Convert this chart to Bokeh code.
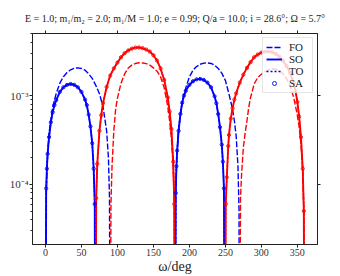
from bokeh.plotting import figure
from bokeh.models import Range1d, FixedTicker, LinearAxis, LogAxis, Legend, LegendItem
from bokeh.embed import file_html
from bokeh.resources import INLINE

# ---- data (values in units of 1e-3; positive part drawn blue, negative part red) ----
so_omega = [0, 1, 2, 3, 5, 7.5, 10, 12.5, 15, 20, 25, 30, 35, 40, 45, 50, 55, 57.5, 60, 62.5, 65, 67, 68.5, 69.5,
            70.5, 72, 75, 77.5, 80, 85, 90, 95, 100, 105, 110, 115, 120, 125, 130, 135, 140, 145, 150, 155, 160,
            165, 170, 172.5, 175, 177.5, 179, 180,
            181, 182, 183, 185, 187.5, 190, 192.5, 195, 200, 205, 210, 215, 220, 225, 230, 235, 237.5, 240, 242.5,
            245, 246.5, 248, 249.3,
            250.5, 252, 254, 255, 257.5, 260, 262.5, 265, 270, 275, 280, 285, 290, 295, 300, 305, 310, 315, 320,
            325, 330, 335, 340, 345, 347.5, 350, 352.5, 355, 357.5, 359, 360]
so_vals = [0, 0.09, 0.15, 0.22, 0.34, 0.50, 0.65, 0.78, 0.89, 1.10, 1.24, 1.32, 1.35, 1.32, 1.24, 1.10, 0.90, 0.78,
           0.61, 0.45, 0.29, 0.15, 0.06, 0,
           -0.07, -0.17, -0.40, -0.60, -0.82, -1.25, -1.68, -2.02, -2.35, -2.70, -3.00, -3.22, -3.38, -3.47, -3.48,
           -3.42, -3.30, -3.13, -2.85, -2.48, -2.02, -1.50, -0.95, -0.66, -0.42, -0.18, -0.06, 0,
           0.08, 0.16, 0.24, 0.40, 0.62, 0.83, 1.00, 1.13, 1.32, 1.45, 1.52, 1.54, 1.50, 1.40, 1.24, 0.98, 0.82,
           0.62, 0.44, 0.28, 0.18, 0.09, 0,
           -0.06, -0.12, -0.27, -0.36, -0.55, -0.72, -0.90, -1.06, -1.40, -1.72, -2.05, -2.38, -2.70, -2.90, -3.05,
           -3.13, -3.14, -3.08, -2.95, -2.75, -2.48, -2.15, -1.80, -1.38, -1.12, -0.85, -0.58, -0.34, -0.15, -0.05, 0]

fo_omega = [0, 1, 2.5, 5, 10, 15, 20, 25, 30, 35, 40, 45, 50, 55, 60, 65, 70, 75, 80, 85, 87.5, 89, 90,
            91, 92.5, 95, 97.5, 100, 105, 110, 115, 120, 125, 130, 135, 140, 145, 150, 155, 160, 165, 170, 172.5,
            175, 177.5, 179, 180,
            181, 182.5, 185, 190, 195, 200, 205, 210, 215, 220, 225, 230, 235, 240, 245, 250, 255, 260, 262.5,
            265, 267.5, 269, 269.5,
            271, 272.5, 275, 277.5, 280, 282.5, 285, 290, 295, 300, 305, 310, 315, 320, 325, 330, 335, 340, 345,
            350, 352.5, 355, 357.5, 359, 360]
fo_vals = [0, 0.07, 0.18, 0.38, 0.74, 1.06, 1.38, 1.63, 1.82, 1.95, 2.03, 2.05, 2.02, 1.93, 1.76, 1.56, 1.30, 1.05,
           0.75, 0.40, 0.20, 0.07, 0,
           -0.06, -0.16, -0.40, -0.70, -0.93, -1.38, -1.75, -2.04, -2.20, -2.30, -2.34, -2.33, -2.29, -2.20, -2.05,
           -1.88, -1.62, -1.22, -0.75, -0.52, -0.33, -0.16, -0.06, 0,
           0.08, 0.20, 0.42, 0.85, 1.22, 1.62, 1.93, 2.12, 2.25, 2.32, 2.33, 2.30, 2.20, 2.02, 1.79, 1.48, 1.04,
           0.70, 0.52, 0.35, 0.16, 0.05, 0,
           -0.07, -0.13, -0.26, -0.38, -0.52, -0.74, -0.95, -1.35, -1.60, -1.74, -1.86, -1.95, -1.99, -1.98, -1.90,
           -1.76, -1.55, -1.28, -0.95, -0.60, -0.44, -0.29, -0.14, -0.05, 0]

to_omega = list(so_omega)
to_vals = list(so_vals)
sa_omega = list(so_omega)
sa_vals = list(so_vals)

UNIT = 1e-3
FLOOR = 1e-7  # zero crossings on a log axis

xtick_values = [0, 50, 100, 150, 200, 250, 300, 350]
ytick_values = [1e-4, 1e-3]
ytick_labels = ["10\u207b\u2074", "10\u207b\u00b3"]
yminor = [m * 10.0 ** e for e in (-5, -4, -3) for m in range(2, 10)]

title_text = "E = 1.0; m\u2081/m\u2082 = 2.0; m\u2081/M = 1.0; e = 0.99; Q/a = 10.0; i = 28.6\u00b0; \u03a9 = 5.7\u00b0"
legend_labels = ["FO", "SO", "TO", "SA"]

BLUE = "#0000ff"
RED = "#ff0000"
FONT = "Liberation Serif"


def arches(om, vals):
    zeros = [k for k, v in enumerate(vals) if v == 0]
    out = {1: ([], []), -1: ([], [])}
    for a, b in zip(zeros[:-1], zeros[1:]):
        seg = vals[a:b + 1]
        sgn = 1 if sum(seg) > 0 else -1
        out[sgn][0].append(list(om[a:b + 1]))
        out[sgn][1].append([abs(v) * UNIT if v != 0 else FLOOR for v in seg])
    return out


def points(om, vals, sgn):
    xs = [w for w, v in zip(om, vals) if v * sgn > 0]
    ys = [abs(v) * UNIT for v in vals if v * sgn > 0]
    return xs, ys


p = figure(width=340, height=276, x_range=Range1d(-18, 378), y_range=Range1d(2.1e-5, 5.0e-3),
           y_axis_type="log", output_backend="svg", toolbar_location=None, title=title_text,
           min_border_left=32, min_border_right=23, min_border_top=33, min_border_bottom=31)

fo = arches(fo_omega, fo_vals)
so = arches(so_omega, so_vals)
to = arches(to_omega, to_vals)

fo_b = p.multi_line(fo[1][0], fo[1][1], line_color=BLUE, line_width=1.4, line_dash="6 2")
fo_r = p.multi_line(fo[-1][0], fo[-1][1], line_color=RED, line_width=1.4, line_dash="6 2")
so_b = p.multi_line(so[1][0], so[1][1], line_color=BLUE, line_width=1.9)
so_r = p.multi_line(so[-1][0], so[-1][1], line_color=RED, line_width=1.9)
to_b = p.multi_line(to[1][0], to[1][1], line_color=BLUE, line_width=1.4, line_dash="2 2")
to_r = p.multi_line(to[-1][0], to[-1][1], line_color=RED, line_width=1.4, line_dash="2 2")
bx, by = points(sa_omega, sa_vals, 1)
rx, ry = points(sa_omega, sa_vals, -1)
sa_b = p.scatter(bx, by, marker="circle", size=3.2, line_color=BLUE, fill_color=None, line_width=0.9)
sa_r = p.scatter(rx, ry, marker="circle", size=3.2, line_color=RED, fill_color=None, line_width=0.9)

# title
p.title.text_font = FONT
p.title.text_font_size = "10px"
p.title.text_font_style = "normal"
p.title.align = "center"
p.title.text_color = "#222222"
p.title.standoff = 14

p.xgrid.visible = False
p.ygrid.visible = False
p.outline_line_color = "#222222"
p.outline_line_width = 1

for ax in (p.xaxis[0], p.yaxis[0]):
    ax.axis_line_color = "#222222"
    ax.major_tick_line_color = "#222222"
    ax.minor_tick_line_color = "#222222"
    ax.major_tick_out = 3
    ax.major_tick_in = 0
    ax.minor_tick_in = 0
    ax.major_label_text_font = FONT
    ax.major_label_text_font_size = "10px"
    ax.major_label_text_color = "#333333"
    ax.major_label_standoff = 1

p.xaxis.ticker = FixedTicker(ticks=xtick_values)
p.xaxis.minor_tick_out = 0
p.xaxis.axis_label = "\u03c9/deg"
p.xaxis.axis_label_text_font = FONT
p.xaxis.axis_label_text_font_size = "14px"
p.xaxis.axis_label_text_font_style = "normal"
p.xaxis.axis_label_text_color = "#222222"
p.xaxis.axis_label_standoff = 0

p.yaxis.ticker = FixedTicker(ticks=ytick_values, minor_ticks=yminor)
p.yaxis.major_label_overrides = dict(zip(ytick_values, ytick_labels))
p.yaxis.major_label_text_font_size = "11px"
p.yaxis.minor_tick_out = 2

top = LinearAxis(ticker=FixedTicker(ticks=xtick_values),
                 major_label_overrides={t: "" for t in xtick_values},
                 major_tick_out=3, major_tick_in=0, minor_tick_out=0, major_label_standoff=0,
                 axis_line_color="#222222", major_tick_line_color="#222222")
p.add_layout(top, "above")
right = LogAxis(ticker=FixedTicker(ticks=ytick_values, minor_ticks=[]),
                major_label_overrides={t: "" for t in ytick_values},
                major_tick_out=3, major_tick_in=0, minor_tick_out=0, major_label_standoff=0,
                axis_line_color="#222222", major_tick_line_color="#222222")
p.add_layout(right, "right")

legend = Legend(items=[LegendItem(label=legend_labels[0], renderers=[fo_b]),
                       LegendItem(label=legend_labels[1], renderers=[so_b]),
                       LegendItem(label=legend_labels[2], renderers=[to_b]),
                       LegendItem(label=legend_labels[3], renderers=[sa_b])],
                location="top_right")
legend.label_text_font = FONT
legend.label_text_font_size = "11px"
legend.label_text_color = "#222222"
legend.glyph_width = 16
legend.glyph_height = 10
legend.label_height = 10
legend.spacing = 0
legend.padding = 3
legend.margin = 4
legend.label_standoff = 7
legend.border_line_color = "#cccccc"
legend.background_fill_alpha = 0.8
p.add_layout(legend)

p.background_fill_color = "white"
p.border_fill_color = "white"

open("out.html", "w").write(file_html(p, INLINE))
